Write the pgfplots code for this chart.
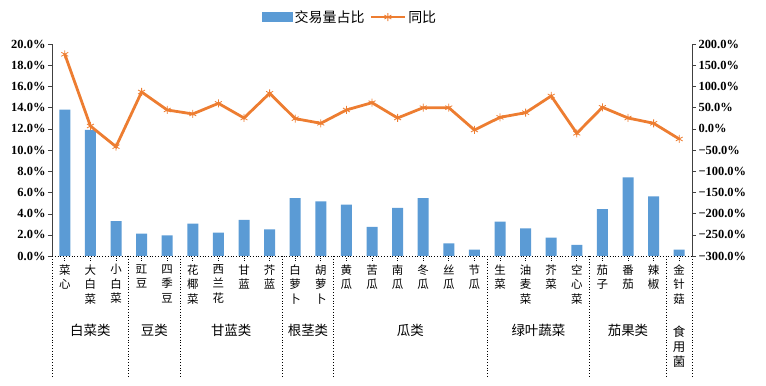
\documentclass[border=0pt]{standalone}
\usepackage{fontspec}
\setmainfont{Noto Sans CJK SC}
\newfontfamily\numfont{Liberation Serif}
\usepackage{pgfplots}
\pgfplotsset{compat=1.18}
\definecolor{barblue}{HTML}{5B9BD5}
\definecolor{lineorange}{HTML}{ED7D31}
\pgfplotsset{mylegline/.style={legend image code/.code={\draw[mark repeat=2,mark phase=2,##1] plot coordinates {(0bp,0bp) (17bp,0bp) (34bp,0bp)};}}}
\begin{document}
\begin{tikzpicture}
\useasboundingbox (0bp,0bp) rectangle (766bp,386bp);
\begin{axis}[at={(52bp,130bp)}, anchor=south west, scale only axis, width=640bp, height=212bp,
  xmin=-0.5, xmax=24.5, ymin=0, ymax=20, clip=false,
  axis y line*=left, axis x line*=bottom,
  axis line style={-, black!75},
  x axis line style={dotted, black, thick},
  tick align=outside, major tick length=4bp,
  ytick={0,2,4,6,8,10,12,14,16,18,20},
  yticklabels={0.0\%,2.0\%,4.0\%,6.0\%,8.0\%,10.0\%,12.0\%,14.0\%,16.0\%,18.0\%,20.0\%},
  yticklabel style={font=\numfont\bfseries\fontsize{12.5}{14}\selectfont, xshift=1bp},
  ytick style={black!75},
  xtick={0,...,24},
  xtick style={dotted, black, thick},
  xticklabels={{菜\\心},{大\\白\\菜},{小\\白\\菜},{豇\\豆},{四\\季\\豆},{花\\椰\\菜},{西\\兰\\花},{甘\\蓝},{芥\\蓝},{白\\萝\\卜},{胡\\萝\\卜},{黄\\瓜},{苦\\瓜},{南\\瓜},{冬\\瓜},{丝\\瓜},{节\\瓜},{生\\菜},{油\\麦\\菜},{芥\\菜},{空\\心\\菜},{茄\\子},{番\\茄},{辣\\椒},{金\\针\\菇}},
  xticklabel style={font=\fontsize{11.5}{14.5}\selectfont, align=center, anchor=north, yshift=-1bp},
]
\addplot[ybar, bar width=11bp, fill=barblue, draw=none] coordinates {
(0,13.8) (1,11.9) (2,3.3) (3,2.1) (4,1.95) (5,3.05) (6,2.2) (7,3.4) (8,2.5)
(9,5.47) (10,5.16) (11,4.84) (12,2.74) (13,4.53) (14,5.47) (15,1.2) (16,0.6)
(17,3.24) (18,2.6) (19,1.73) (20,1.04) (21,4.43) (22,7.42) (23,5.63) (24,0.6)};
\foreach \s in {-0.5,2.5,4.5,8.5,10.5,16.5,20.5,23.5,24.5}{
  \edef\tmp{\noexpand\draw[dotted, thick] (axis cs:\s,0) -- (axis cs:\s,-11.5);}\tmp
}
\begin{scope}[every node/.style={font=\fontsize{13.5}{15}\selectfont}]
\node at (axis cs:1,-6.98) {白菜类};
\node at (axis cs:3.5,-6.98) {豆类};
\node at (axis cs:6.5,-6.98) {甘蓝类};
\node at (axis cs:9.5,-6.98) {根茎类};
\node at (axis cs:13.5,-6.98) {瓜类};
\node at (axis cs:18.5,-6.98) {绿叶蔬菜};
\node at (axis cs:22,-6.98) {茄果类};
\node[align=center, anchor=north, font=\fontsize{12.5}{15}\selectfont] at (axis cs:24,-6.3) {食\\用\\菌};
\end{scope}
\end{axis}
\begin{axis}[at={(52bp,130bp)}, anchor=south west, scale only axis, width=640bp, height=212bp,
  xmin=-0.5, xmax=24.5, ymin=-300, ymax=200, clip=false,
  axis y line*=right, axis x line=none,
  axis line style={-, black!75},
  tick align=outside, major tick length=4bp,
  ytick={-300,-250,-200,-150,-100,-50,0,50,100,150,200},
  yticklabels={−300.0\%,−250.0\%,−200.0\%,−150.0\%,−100.0\%,−50.0\%,0.0\%,50.0\%,100.0\%,150.0\%,200.0\%},
  yticklabel style={font=\numfont\bfseries\fontsize{12.5}{14}\selectfont, xshift=-1bp},
  ytick style={black!75},
  legend columns=2,
  legend style={at={(0.466,1.127)}, anchor=center, draw=none, fill=none,
    font=\fontsize{14}{16}\selectfont,
    /tikz/every even column/.append style={column sep=3bp}},
]
\addlegendimage{legend image code/.code={\fill[barblue] (0bp,-4.5bp) rectangle (30bp,5bp);}}
\addlegendentry{交易量占比}
\addplot[lineorange, line width=2.8bp, mark=asterisk, mark size=4bp, mark options={line width=0.8bp}, mylegline]
coordinates {
(0,175.7) (1,6.6) (2,-42.1) (3,86.8) (4,44.4) (5,35) (6,60) (7,25.5) (8,83.7)
(9,24) (10,13) (11,44.4) (12,61.6) (13,25.5) (14,49.8) (15,49.8) (16,-2.8)
(17,27) (18,38) (19,77.4) (20,-10.6) (21,50.7) (22,25.5) (23,13) (24,-24)};
\addlegendentry{同比}
\end{axis}
\end{tikzpicture}
\end{document}
